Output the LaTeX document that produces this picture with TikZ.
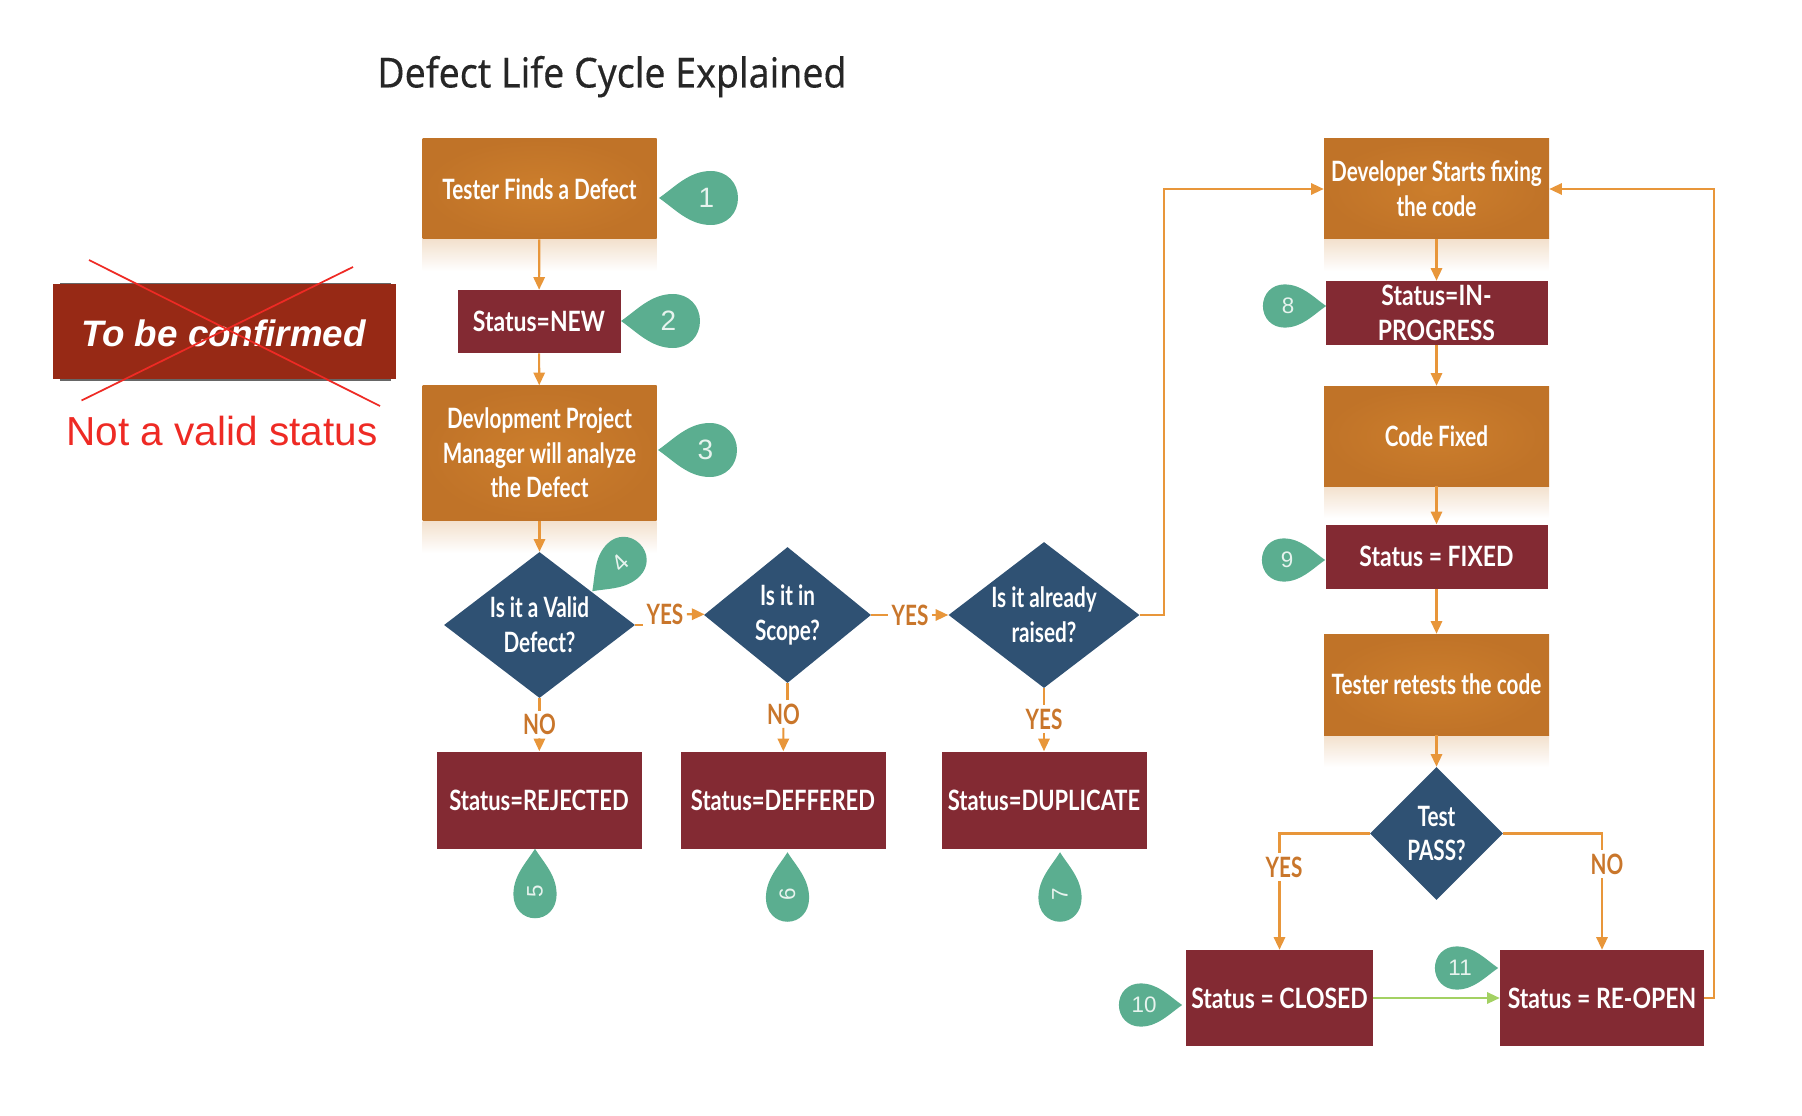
\documentclass[tikz,border=0pt]{standalone}
\usepackage{fontspec}
\usetikzlibrary{arrows.meta,shapes.geometric}
\setmainfont{Liberation Sans}
\newfontfamily\flowfont[FakeStretch=0.74]{Lato}
\newfontfamily\statusfont[FakeStretch=0.82]{Lato}
\newfontfamily\tightfont[FakeStretch=0.785]{Lato}
\newfontfamily\titlefont[FakeStretch=0.906,FakeBold=0.25]{Noto Sans}
\definecolor{boxorange}{HTML}{CC7E2C}
\definecolor{boxorangedark}{HTML}{C07328}
\definecolor{boxmaroon}{HTML}{832A33}
\definecolor{boxnavy}{HTML}{2F5173}
\definecolor{droptealc}{HTML}{5BAE90}
\definecolor{linkorange}{HTML}{E8963A}
\definecolor{labelorange}{HTML}{C9762B}
\definecolor{linkgreen}{HTML}{A3D163}
\definecolor{strikered}{HTML}{EE2A24}
\definecolor{invalidred}{HTML}{972915}
\tikzset{
  flowtext/.style={font=\flowfont\bfseries\fontsize{21}{26}\selectfont,text=white,align=center,inner sep=0pt},
  orangebox/.style={flowtext,inner color=boxorange,outer color=boxorangedark},
  statusbox/.style={flowtext,font=\statusfont\bfseries\fontsize{21}{26}\selectfont,fill=boxmaroon},
  tightbox/.style={statusbox,font=\tightfont\bfseries\fontsize{21}{26}\selectfont},
  decision/.style={flowtext,diamond,fill=boxnavy},
  answer/.style={font=\flowfont\bfseries\fontsize{21}{24}\selectfont,text=labelorange,inner sep=2.5pt},
  link/.style={draw=linkorange,line width=1.6pt,-{Triangle[length=9.5pt,width=8.5pt]}},
  plainlink/.style={draw=linkorange,line width=1.6pt},
  dropnum/.style={text=white!85!droptealc,font=\fontsize{21}{24}\selectfont,inner sep=0pt},
}
% [stretch], name, centre x, centre y, drop angle, scale, number, number angle
\newcommand{\teardrop}[8][1]{%
  \begin{scope}[shift={(#3,#4)},rotate=#5,scale=#6]
    \fill[droptealc,xscale=#1] (-52,0) .. controls (-36,-11) and (-22,-27) .. (0,-27) .. controls (16,-27) and (27,-15) .. (27,0) .. controls (27,15) and (16,27) .. (0,27) .. controls (-22,27) and (-36,11) .. (-52,0) -- cycle;
    \node[dropnum,scale=#6,rotate=#8] (#2) at (-4.5,0) {#7};
  \end{scope}
}
\begin{document}
\begin{tikzpicture}[x=0.75pt,y=0.75pt,yscale=-1,xscale=1]
\useasboundingbox (0,0) rectangle (1802,1116);

% glow under the orange boxes
\foreach \glowx/\glowy/\glowwd in {422.5/239/234,422.5/521/234,1324/239/225,1324/486/225,1324/735/225}
  \shade[top color=boxorange!24,bottom color=white] (\glowx,\glowy) rectangle ++(\glowwd,32);

\node[font=\titlefont\fontsize{31}{36}\selectfont,text=black!85,inner sep=0pt,anchor=base] (title) at (612,87.5) {Defect Life Cycle Explained};

% left column
\node[orangebox,minimum width=234*0.75pt,minimum height=100*0.75pt] (finds) at (539.5,189) {Tester Finds a Defect};
\node[statusbox,minimum width=163*0.75pt,minimum height=63*0.75pt] (new) at (539,321.5) {Status=NEW};
\node[orangebox,minimum width=234*0.75pt,minimum height=135*0.75pt] (analyze) at (539.5,453) {Devlopment Project\\Manager will analyze\\the Defect};
\node[decision,aspect=1.31,minimum width=191*0.75pt,minimum height=146*0.75pt] (valid) at (539.5,625) {Is it a Valid\\Defect?};
\node[decision,aspect=1.23,minimum width=167*0.75pt,minimum height=136*0.75pt] (scope) at (787.5,615) {Is it in\\Scope?};
\node[decision,aspect=1.31,minimum width=191*0.75pt,minimum height=146*0.75pt] (raised) at (1044,615) {Is it already\\raised?};
\node[tightbox,minimum width=205*0.75pt,minimum height=97*0.75pt] (rejected) at (539,800) {Status=REJECTED};
\node[tightbox,minimum width=205*0.75pt,minimum height=97*0.75pt] (deffered) at (783,800) {Status=DEFFERED};
\node[tightbox,minimum width=205*0.75pt,minimum height=97*0.75pt] (duplicate) at (1044,800) {Status=DUPLICATE};

% right column
\node[orangebox,minimum width=225*0.75pt,minimum height=100*0.75pt] (fixing) at (1436.5,189) {Developer Starts fixing\\the code};
\node[statusbox,minimum width=222*0.75pt,minimum height=64*0.75pt] (inprogress) at (1436.5,313) {Status=IN-\\PROGRESS};
\node[orangebox,minimum width=225*0.75pt,minimum height=100*0.75pt] (fixed) at (1436.5,436) {Code Fixed};
\node[statusbox,minimum width=222*0.75pt,minimum height=64*0.75pt] (statusfixed) at (1436.5,556.5) {Status = FIXED};
\node[orangebox,minimum width=225*0.75pt,minimum height=101*0.75pt] (retest) at (1436.5,684.5) {Tester retests the code};
\node[decision,aspect=1.0,minimum width=133*0.75pt,minimum height=133*0.75pt] (pass) at (1436.5,833.5) {Test\\PASS?};
\node[statusbox,minimum width=187*0.75pt,minimum height=96*0.75pt] (closed) at (1279.5,998) {Status = CLOSED};
\node[statusbox,minimum width=204*0.75pt,minimum height=96*0.75pt] (reopen) at (1602,998) {Status = RE-OPEN};

% answers on the lines
\node[answer] (yesvalid) at (665,614) {YES};
\node[answer] (yesscope) at (910,615) {YES};
\node[answer] (novalid) at (539.5,724.5) {NO};
\node[answer] (noscope) at (783.5,714) {NO};
\node[answer] (yesraised) at (1044,719) {YES};
\node[answer] (yespass) at (1284,867) {YES};
\node[answer] (nopass) at (1607,864) {NO};

% links
\draw[link] (finds) -- (new);
\draw[link] (new) -- (analyze);
\draw[link] (analyze) -- (valid);
\draw[link] (fixing) -- (inprogress);
\draw[link] (inprogress) -- (fixed);
\draw[link] (fixed) -- (statusfixed);
\draw[link] (statusfixed) -- (retest);
\draw[link] (retest) -- (pass);
\draw[link,draw=linkgreen] (closed) -- (reopen);
\draw[plainlink] (valid.east) -- (valid.east -| yesvalid.west);
\draw[link] (yesvalid) -- (scope);
\draw[plainlink] (scope.east) -- (yesscope);
\draw[link] (yesscope) -- (raised);
\draw[plainlink] (valid.south) -- (novalid);
\draw[link] (novalid) -- (rejected);
\draw[plainlink] (scope.south) -- (scope.south |- noscope.north);
\draw[link] (noscope) -- (deffered);
\draw[plainlink] (raised.south) -- (yesraised);
\draw[link] (yesraised) -- (duplicate);
\draw[link] (raised.east) -- ++(24,0) |- (fixing.west);
\draw[link] (reopen.east) -- ++(10,0) |- (fixing.east);
\draw[plainlink] (pass.west) -| (closed.north |- yespass.north);
\draw[link] (closed.north |- yespass.south) -- (closed.north);
\draw[plainlink] (pass.east) -| (reopen.north |- nopass.north);
\draw[link] (reopen.north |- nopass.south) -- (reopen.north);

% drops with the step numbers
\teardrop{dropa}{711}{198}{0}{1}{1}{0}
\teardrop{dropb}{673}{321}{0}{1}{2}{0}
\teardrop{dropc}{710}{450}{0}{1}{3}{0}
\teardrop{dropd}{623.5}{560}{-45}{.85}{4}{45}
\teardrop[1.1]{drope}{535}{894.5}{90}{.8}{5}{90}
\teardrop[1.1]{dropf}{787.5}{898}{90}{.8}{6}{90}
\teardrop[1.1]{dropg}{1060}{898}{90}{.8}{7}{90}
\teardrop{droph}{1284.5}{306}{180}{.8}{8}{0}
\teardrop{dropi}{1283.5}{560}{180}{.8}{9}{0}
\teardrop{dropj}{1140.5}{1005}{180}{.8}{10}{0}
\teardrop{dropk}{1456.5}{968}{180}{.8}{11}{0}

% the status that does not count
\draw[black!60,line width=1.5pt] (60,284) -- (391,284) (60,379.5) -- (391,379.5);
\node[fill=invalidred,minimum width=343*0.75pt,minimum height=95*0.75pt,inner sep=0pt] (invalid) at (224.5,331.5) {};
\node[text=white,inner sep=0pt,font=\bfseries\itshape\fontsize{27.6}{30}\selectfont] (invalidtext) at (223.5,333) {To be confirmed};
\draw[strikered,line width=1.3pt] (89,260) -- (380,406);
\draw[strikered,line width=1.3pt] (353,267) -- (81.5,400.5);
\node[text=strikered,font=\fontsize{30.4}{36}\selectfont,inner sep=0pt,anchor=base] (reason) at (222,445.5) {Not a valid status};
\end{tikzpicture}
\end{document}
